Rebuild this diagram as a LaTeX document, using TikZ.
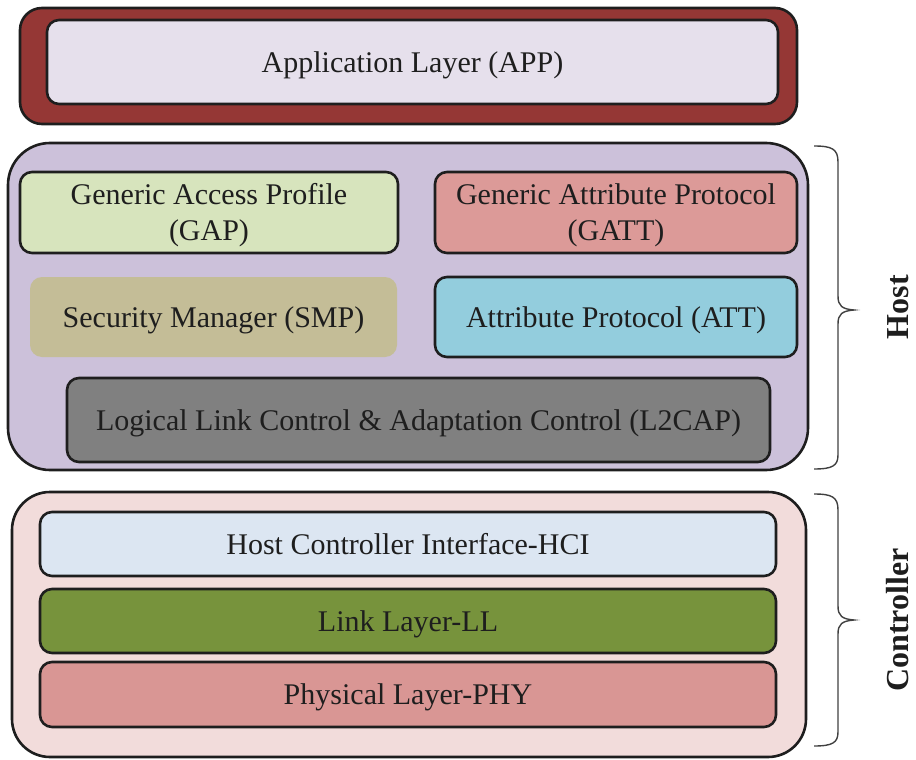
\documentclass[tikz,border=0pt]{standalone}
\usepackage{fontspec}
\setmainfont{Liberation Serif}
\definecolor{appred}{HTML}{953735}
\definecolor{applav}{HTML}{E6E0EC}
\definecolor{hostbg}{HTML}{CCC1DA}
\definecolor{gapgreen}{HTML}{D7E4BD}
\definecolor{gattred}{HTML}{DC9A98}
\definecolor{smptan}{HTML}{C4BD97}
\definecolor{attblue}{HTML}{93CDDD}
\definecolor{lcgray}{HTML}{808080}
\definecolor{ctrlbg}{HTML}{F2DCDB}
\definecolor{hciblue}{HTML}{DCE6F2}
\definecolor{llgreen}{HTML}{77933C}
\definecolor{phyred}{HTML}{D99694}
\definecolor{ink}{HTML}{1E1E1E}
% box text, drawn a little below the geometric centre (declared size kept)
\newcommand{\boxtext}[1]{\raisebox{-3pt}[\height][\depth]{\begin{tabular}{@{}c@{}}#1\end{tabular}}}
\begin{document}
\begin{tikzpicture}[x=1pt,y=-1pt,
  every node/.style={inner sep=0pt, outer sep=0pt, text=ink},
  layerbox/.style={draw=ink, line width=2.6pt, rounded corners=12pt, align=center,
    font=\fontsize{30}{36}\selectfont},
  groupbox/.style={draw=ink, line width=2.6pt},
  sidebrace/.style={draw=ink!85, line width=1.4pt},
  sidelabel/.style={rotate=90, font=\fontsize{32}{36}\selectfont\bfseries}]
\useasboundingbox (0,0) rectangle (916,760);

% application layer
\node[groupbox, fill=appred, rounded corners=22pt, minimum width=777pt, minimum height=116pt] (appframe) at (408.5,66) {};
\node[layerbox, fill=applav, minimum width=731pt, minimum height=84pt] (app) at (412.5,62) {\boxtext{Application Layer (APP)}};

% host group
\node[groupbox, fill=hostbg, rounded corners=42pt, minimum width=800pt, minimum height=327pt] (host) at (408,306.5) {};
\node[layerbox, fill=gapgreen, minimum width=378pt, minimum height=81pt] (gap) at (209,212.5) {\boxtext{Generic Access Profile\\(GAP)}};
\node[layerbox, fill=gattred, minimum width=362pt, minimum height=81pt] (gatt) at (616,212.5) {\boxtext{Generic Attribute Protocol\\(GATT)}};
\node[layerbox, draw=none, fill=smptan, minimum width=367pt, minimum height=80pt] (smp) at (213.5,317) {\boxtext{Security Manager (SMP)}};
\node[layerbox, fill=attblue, minimum width=362pt, minimum height=80pt] (att) at (616,317) {\boxtext{Attribute Protocol (ATT)}};
\node[layerbox, fill=lcgray, minimum width=703pt, minimum height=84pt] (l2cap) at (418.5,420) {\boxtext{Logical Link Control \& Adaptation Control (L2CAP)}};

% controller group
\node[groupbox, fill=ctrlbg, rounded corners=38pt, minimum width=794pt, minimum height=265pt] (ctrl) at (409,624.5) {};
\node[layerbox, fill=hciblue, minimum width=736pt, minimum height=64pt] (hci) at (408,544) {\boxtext{Host Controller Interface-HCI}};
\node[layerbox, fill=llgreen, minimum width=736pt, minimum height=64pt] (ll) at (408,621) {\boxtext{Link Layer-LL}};
\node[layerbox, fill=phyred, minimum width=736pt, minimum height=65pt] (phy) at (408,694.5) {\boxtext{Physical Layer-PHY}};

% braces and labels
\coordinate (hostTop) at (814,146);
\coordinate (hostTip) at (854,310);
\coordinate (hostBot) at (814,469);
\draw[sidebrace] (hostTop) .. controls (832,146) and (838,149) .. (838,162)
  -- (838,296) .. controls (838,306) and (842,309) .. (hostTip)
  .. controls (842,311) and (838,314) .. (838,324)
  -- (838,455) .. controls (838,466) and (832,469) .. (hostBot);
\node[sidelabel] (hostlabel) at (898,307) {Host};

\coordinate (ctrlTop) at (814,494);
\coordinate (ctrlTip) at (854,620);
\coordinate (ctrlBot) at (814,746);
\draw[sidebrace] (ctrlTop) .. controls (832,494) and (838,497) .. (838,510)
  -- (838,606) .. controls (838,616) and (842,619) .. (ctrlTip)
  .. controls (842,621) and (838,624) .. (838,634)
  -- (838,732) .. controls (838,743) and (832,746) .. (ctrlBot);
\node[sidelabel] (ctrllabel) at (898,620) {Controller};
\end{tikzpicture}
\end{document}
